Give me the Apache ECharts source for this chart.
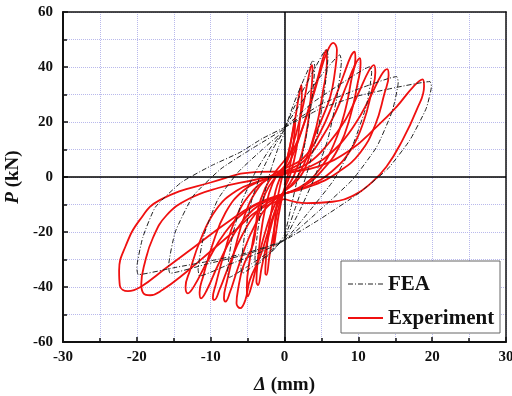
<!DOCTYPE html>
<html>
<head>
<meta charset="utf-8">
<script src="https://cdn.jsdelivr.net/npm/echarts@6/dist/echarts.min.js"></script>
<style>
  html, body { margin: 0; padding: 0; background: #fff; }
  #chart { width: 512px; height: 396px; }
</style>
</head>
<body>
<div id="chart"></div>
<script>
// Axis ranges and tick steps
const xRange = [-30, 30];
const yRange = [-60, 60];
const xStep = 10;
const yStep = 20;

// Legend entries
const seriesNames = ['FEA', 'Experiment'];

// Measured hysteresis cycles, [displacement (mm), load (kN)]
const expC1 = [[0,-3],[0.5,1],[1.0,8],[1.35,16],[1.45,20],[1.4,21],[1.2,18],[0.8,12],[0.3,6],[0,3],[-0.5,-2],[-1.0,-9],[-1.35,-18],[-1.5,-24],[-1.45,-25],[-1.2,-21],[-0.8,-14],[-0.3,-7],[0,-4]];
const expC2 = [[0,-4],[0.8,1],[1.6,10],[2.1,21],[2.35,30],[2.3,33.5],[2.05,31],[1.5,22],[0.8,12],[0.2,5],[-0.4,1],[-1.2,-5],[-2.0,-16],[-2.45,-28],[-2.6,-35],[-2.45,-35.6],[-2.05,-29],[-1.4,-19],[-0.7,-10],[0,-5]];
const expC3 = [[0,-5],[1.2,0],[2.4,9],[3.2,20],[3.65,32],[3.8,39],[3.7,40.7],[3.3,37],[2.6,27],[1.7,17],[0.7,8],[0,4],[-1,1],[-2.1,-6],[-3.0,-17],[-3.6,-30],[-3.8,-38],[-3.6,-39.3],[-3.1,-33],[-2.2,-22],[-1.2,-12],[-0.3,-6]];
const expC4 = [[0,-5],[1.5,-1],[3.0,7],[4.3,18],[5.2,31],[5.75,42],[5.7,46.2],[5.3,44],[4.5,36],[3.4,26],[2.1,15],[0.8,6],[0,3],[-1.2,0],[-2.6,-6],[-3.8,-17],[-4.7,-30],[-5.1,-40],[-5.0,-43.5],[-4.5,-40],[-3.6,-30],[-2.5,-19],[-1.3,-10],[0,-5]];
const expC5 = [[0,-5],[1.8,-1],[3.2,6],[3.9,13.5],[5,20.7],[6.2,29.2],[6.8,37.7],[7.1,46.2],[6.6,48.8],[5.7,45],[4.8,37.7],[3.7,28],[2.5,18.3],[1.2,10],[0,6],[-1.2,2],[-2.6,-4],[-3.6,-12],[-4.2,-24],[-5.6,-32.6],[-6.3,-41],[-6.5,-45.9],[-6,-47.7],[-5.3,-44.7],[-4.7,-37.5],[-3.3,-29],[-2,-18],[-0.8,-9],[0,-6]];
const expC6 = [[0,-6],[2.5,-3],[4.8,3],[6.7,12],[8.2,24],[9.1,36],[9.6,43],[9.5,45.6],[9.0,44],[8.0,37],[6.6,27],[4.8,16],[2.6,7],[0,3],[-2,0],[-3.8,-5],[-5.4,-14],[-6.8,-27],[-7.8,-38],[-8.2,-44],[-8.0,-45.3],[-7.4,-42],[-6.3,-33],[-4.8,-22],[-3,-13],[-1.2,-8],[0,-6]];
const expC7 = [[0,-6],[2.8,-3],[5.3,3],[7.4,11],[8.9,22],[9.9,34],[10.3,41],[10.2,43.2],[9.6,41],[8.5,34],[7,24],[5,14],[2.7,6],[0,2],[-2.4,-1],[-4.6,-6],[-6.6,-15],[-8.2,-28],[-9.3,-39],[-9.7,-44],[-9.5,-44.7],[-8.8,-41],[-7.5,-32],[-5.7,-21],[-3.5,-12],[-1.4,-8],[0,-6]];
const expC8 = [[0,-6],[3.4,-3],[6.4,2],[9,10],[10.7,20],[11.8,31],[12.3,38],[12.1,40.7],[11.4,38.5],[10.1,31],[8.3,21],[5.9,12],[3.2,5],[0,1.5],[-2.9,-1],[-5.6,-5],[-8,-13],[-9.8,-25],[-11,-36],[-11.5,-42],[-11.3,-44.1],[-10.5,-41],[-9,-32],[-6.9,-21],[-4.3,-12],[-1.8,-8],[0,-6]];
const expC9 = [[0,-6],[3.9,-3],[7.4,2],[10.3,9],[12.3,19],[13.5,30],[14.1,37],[13.9,39.2],[13.1,37],[11.6,29],[9.5,19],[6.8,10],[3.6,4],[0,1],[-3.4,-1.5],[-6.5,-5],[-9.3,-12],[-11.4,-23],[-12.8,-34],[-13.4,-40],[-13.1,-42.3],[-12.2,-39.5],[-10.5,-31],[-8,-20],[-5,-12],[-2,-8],[0,-6]];
const expC10 = [[0,-8],[3,-9.5],[6.5,-9],[9.5,-6.5],[11.6,-2.5],[13.8,3.7],[16,13.5],[17.9,24.4],[18.9,33],[18.7,35.5],[17.4,32.7],[15.2,25.6],[12.5,18.3],[8.9,9.8],[4.4,3.7],[0,1.4],[-4,-1],[-9,-4],[-13,-8],[-16,-14],[-17.8,-22],[-18.9,-31],[-19.4,-39],[-19.1,-42.3],[-18.2,-43],[-16.5,-41],[-13.5,-35],[-10,-27],[-6.5,-19],[-3.5,-12],[0,-8]];
const expC11 = [[0,2],[-3.3,1.9],[-10,-2],[-16.9,-8.4],[-19.6,-15.6],[-21.5,-25],[-22.4,-34],[-22.3,-39.5],[-21.2,-41.5],[-19.5,-40],[-16,-33],[-12,-25],[-8,-17],[-4,-10],[0,-6]];

// Finite element cycles
const feaC1 = [[0,17],[1.3,27],[2.7,36],[3.9,42.5],[4.1,40],[3.7,28],[2.9,14],[1.8,0],[0.8,-12],[0,-21],[-1.3,-26],[-2.6,-29.5],[-3.8,-32],[-4,-30],[-3.6,-19],[-2.8,-7],[-1.8,3],[-0.8,11],[0,16]];
const feaC2 = [[0,18],[1.8,28],[3.8,38],[5.7,46.5],[5.9,44],[5.4,31],[4.4,15],[3,1],[1.5,-11],[0,-22],[-1.9,-27.5],[-3.8,-31.5],[-5.7,-35],[-5.9,-33],[-5.4,-21],[-4.4,-8],[-2.9,3],[-1.4,11],[0,17]];
const feaC3 = [[0,18],[2.5,28],[5,37],[7.5,44.4],[7.7,42],[7.1,29],[5.9,14],[4.1,0],[2.1,-12],[0,-22.5],[-2.5,-28],[-5,-32.5],[-7.5,-36.5],[-7.7,-34],[-7.1,-22],[-5.8,-9],[-3.9,2],[-1.8,11],[0,17]];
const feaC4 = [[0,18],[3.8,27],[7.7,34],[11.6,40.1],[11.8,38],[11.1,26],[9.3,12],[6.7,-1],[3.5,-12],[0,-23],[-3.8,-28],[-7.7,-32],[-11.5,-36],[-11.7,-33.5],[-10.9,-21],[-9,-8],[-6.2,2],[-3,10],[0,17]];
const feaC5 = [[0,18],[5,26.5],[10,32],[15.2,36.5],[15.4,34.5],[14.6,24],[12.5,11],[9.2,-1],[4.8,-12],[0,-23],[-5,-28],[-10.3,-31.5],[-15.5,-35],[-15.7,-32.5],[-14.8,-20],[-12.4,-7],[-8.6,3],[-4.3,10.5],[0,17.5]];
const feaC6 = [[0,18],[5,25],[10,29.5],[15,32.5],[19.7,34.7],[19.9,33],[19.2,25],[17,13.5],[14,3],[10,-6],[5,-15],[0,-23],[-5,-27.5],[-10,-30.5],[-15,-33],[-19.8,-35.5],[-20,-33],[-19.2,-22],[-17.5,-11],[-14,-2],[-10,4],[-6,9],[-3,14],[0,18]];

const expCycles = [expC1, expC2, expC3, expC4, expC5, expC6, expC7, expC8, expC9, expC10, expC11];
const feaCycles = [feaC1, feaC2, feaC3, feaC4, feaC5, feaC6];

const FONT = "'Liberation Serif', 'Times New Roman', serif";
const GRID_COLOR = '#b9b9ec';
const RED = '#f01010';
const FEA_COLOR = '#222';
const FEA_DASH = [5, 2, 1, 2];

const chart = echarts.init(document.getElementById('chart'), null, { renderer: 'canvas' });

const series = [];
expCycles.forEach(function (cyc) {
  series.push({
    name: seriesNames[1], type: 'line', data: cyc, smooth: 0.45,
    symbol: 'none', showSymbol: false, z: 3,
    lineStyle: { color: RED, width: 1.8 }
  });
});
feaCycles.forEach(function (cyc) {
  series.push({
    name: seriesNames[0], type: 'line', data: cyc, smooth: 0.15,
    symbol: 'none', showSymbol: false, z: 4,
    lineStyle: { color: FEA_COLOR, width: 1, type: FEA_DASH }
  });
});
// zero reference lines
series.push({
  type: 'line', data: [], silent: true, z: 5,
  markLine: {
    silent: true, symbol: ['none', 'none'], label: { show: false },
    lineStyle: { color: '#000', width: 1.5, type: 'solid' },
    data: [{ xAxis: 0 }, { yAxis: 0 }]
  }
});

const axisLabelStyle = { color: '#111', fontFamily: FONT, fontWeight: 'bold', fontSize: 15 };
const legendFont = 'bold 21px ' + FONT;

// legend box drawn as graphic elements
const legendGraphic = [
  { type: 'rect', z: 100, shape: { x: 341, y: 261, width: 159, height: 72 },
    style: { fill: '#fff', stroke: '#666', lineWidth: 1 } },
  { type: 'line', z: 101, shape: { x1: 348, y1: 284, x2: 383, y2: 284 },
    style: { stroke: FEA_COLOR, lineWidth: 1, lineDash: FEA_DASH } },
  { type: 'text', z: 101, style: { text: seriesNames[0], x: 388, y: 285, font: legendFont, fill: '#111', verticalAlign: 'middle' } },
  { type: 'line', z: 101, shape: { x1: 348, y1: 318, x2: 383, y2: 318 },
    style: { stroke: RED, lineWidth: 2 } },
  { type: 'text', z: 101, style: { text: seriesNames[1], x: 388, y: 319, font: legendFont, fill: '#111', verticalAlign: 'middle' } }
];

chart.setOption({
  animation: false,
  backgroundColor: '#fff',
  grid: { left: 63, right: 6, top: 12, bottom: 54, containLabel: false, outerBoundsMode: 'none' },
  graphic: legendGraphic,
  xAxis: [{
    type: 'value', min: xRange[0], max: xRange[1], interval: xStep,
    name: '{i|Δ} (mm)', nameLocation: 'middle', nameGap: 34,
    nameTextStyle: { fontFamily: FONT, fontWeight: 'bold', fontSize: 19, color: '#111',
      rich: { i: { fontFamily: FONT, fontWeight: 'bold', fontStyle: 'italic', fontSize: 19, color: '#111' } } },
    axisLine: { show: true, onZero: false, lineStyle: { color: '#111', width: 2 } },
    axisTick: { show: true, inside: true, length: 5, lineStyle: { color: '#111', width: 1.5 } },
    minorTick: { show: true, splitNumber: 2, length: 4, lineStyle: { color: '#111', width: 1.5 } },
    axisLabel: Object.assign({ margin: 8 }, axisLabelStyle),
    splitLine: { show: true, lineStyle: { color: GRID_COLOR, type: 'dotted', width: 1 } },
    minorSplitLine: { show: true, lineStyle: { color: GRID_COLOR, type: 'dotted', width: 1 } }
  }, {
    type: 'value', position: 'top', min: xRange[0], max: xRange[1], interval: xStep,
    axisLine: { show: true, onZero: false, lineStyle: { color: '#111', width: 1.5 } },
    axisTick: { show: false }, axisLabel: { show: false }, splitLine: { show: false }
  }],
  yAxis: [{
    type: 'value', min: yRange[0], max: yRange[1], interval: yStep,
    name: '{i|P} (kN)', nameLocation: 'middle', nameGap: 31, nameRotate: 90,
    nameTextStyle: { fontFamily: FONT, fontWeight: 'bold', fontSize: 19, color: '#111',
      rich: { i: { fontFamily: FONT, fontWeight: 'bold', fontStyle: 'italic', fontSize: 19, color: '#111' } } },
    axisLine: { show: true, onZero: false, lineStyle: { color: '#111', width: 2 } },
    axisTick: { show: true, inside: true, length: 5, lineStyle: { color: '#111', width: 1.5 } },
    minorTick: { show: true, splitNumber: 2, length: 4, lineStyle: { color: '#111', width: 1.5 } },
    axisLabel: Object.assign({ margin: 10 }, axisLabelStyle),
    splitLine: { show: true, lineStyle: { color: GRID_COLOR, type: 'dotted', width: 1 } },
    minorSplitLine: { show: true, lineStyle: { color: GRID_COLOR, type: 'dotted', width: 1 } }
  }, {
    type: 'value', position: 'right', min: yRange[0], max: yRange[1], interval: yStep,
    axisLine: { show: true, onZero: false, lineStyle: { color: '#111', width: 1.5 } },
    axisTick: { show: false }, axisLabel: { show: false }, splitLine: { show: false }
  }],
  series: series
});
</script>
</body>
</html>
